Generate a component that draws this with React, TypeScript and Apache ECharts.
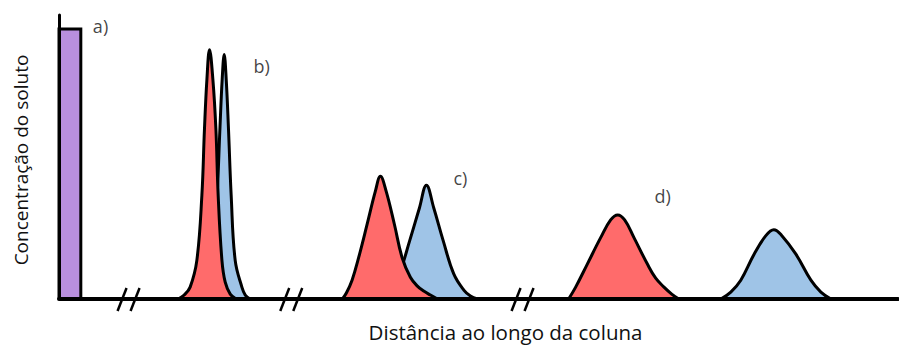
import React, { useEffect, useRef } from "react";
import * as echarts from "echarts";

// Distance along column (0-100) and solute concentration (0-100)
const injectionBand = [[0, 0], [0, 95.1], [2.6, 95.1], [2.6, 0]];

const redB = [[14.2, 0], [14.92, 1.39], [15.63, 4.18], [16.43, 13.59], [17.03, 36.59], [17.34, 59.93], [17.63, 77.35], [17.94, 87.8], [18.34, 77.35], [18.7, 59.93], [18.97, 36.59], [19.42, 13.59], [19.81, 5.92], [20.41, 1.74], [21.12, 0]];
const blueB = [[16.59, 0], [17.54, 4.18], [18.38, 13.59], [18.85, 36.59], [19.18, 59.93], [19.45, 77.35], [19.69, 86.06], [19.93, 77.35], [20.2, 59.93], [20.52, 36.59], [21.0, 13.59], [21.8, 4.18], [22.2, 1.39], [22.79, 0]];

const redC = [[33.77, 0], [34.25, 2.09], [34.93, 6.62], [35.72, 14.63], [36.72, 26.24], [37.71, 37.98], [38.31, 43.21], [38.99, 37.98], [39.98, 26.24], [40.89, 14.63], [41.88, 7.67], [42.72, 4.53], [43.47, 2.79], [44.27, 1.39], [45.11, 0]];
const blueC = [[38.31, 0], [39.38, 3.14], [40.54, 8.82], [41.8, 20.56], [42.96, 32.06], [43.79, 40.07], [44.67, 32.06], [45.79, 20.56], [47.05, 8.82], [48.25, 3.14], [49.04, 1.05], [49.88, 0]];

const redD = [[60.74, 0], [61.58, 4.18], [62.97, 12.3], [64.56, 21.6], [65.75, 27.87], [66.59, 29.62], [67.42, 27.87], [68.53, 21.6], [70.13, 12.3], [71.12, 7.32], [72.11, 4.18], [73.03, 1.74], [73.87, 0]];
const blueD = [[78.88, 0], [80.07, 2.44], [81.26, 6.62], [82.85, 15.78], [84.25, 22.3], [85.2, 24.39], [86.16, 22.3], [87.83, 15.78], [89.62, 6.62], [90.81, 2.44], [92.01, 0]];

const peakLabels = [
  { name: "a)", value: [4.95, 96.2] },
  { name: "b)", value: [24.15, 82.2] },
  { name: "c)", value: [47.85, 42.5] },
  { name: "d)", value: [71.96, 36.2] },
];

const axisBreaks = [[8.29, 0], [27.68, 0], [55.25, 0]];

const xName = "Distância ao longo da coluna";
const yName = "Concentração do soluto";

const FONT = "Open Sans";
const RED = "#ff6b6b";
const BLUE = "#9fc4e7";
const PURPLE = "#b98fde";

function peakSeries(data: number[][], color: string, z: number) {
  return {
    type: "line",
    data,
    smooth: 0.4,
    showSymbol: false,
    symbol: "none",
    z,
    lineStyle: { color: "#000", width: 3, join: "round", cap: "round" },
    areaStyle: { color, opacity: 1 },
    silent: true,
  };
}

export default function App() {
  const ref = useRef<HTMLDivElement>(null);
  useEffect(() => {
    if (!ref.current) return;
    const chart = echarts.init(ref.current, null, { renderer: "svg" });
    chart.setOption({
      animation: false,
      grid: { left: 59, right: 1, top: 15, bottom: 44 },
      xAxis: {
        type: "value",
        min: 0,
        max: 100,
        z: 10,
        name: xName,
        nameLocation: "middle",
        nameGap: 22,
        nameTextStyle: { fontSize: 20.5, fontFamily: FONT, color: "#111", padding: [0, 0, 0, 54] },
        axisLine: { show: true, onZero: false, lineStyle: { color: "#000", width: 4 } },
        axisTick: { show: false },
        axisLabel: { show: false },
        splitLine: { show: false },
      },
      yAxis: {
        type: "value",
        min: 0,
        max: 100,
        z: 10,
        name: yName,
        nameLocation: "middle",
        nameGap: 29,
        nameRotate: 90,
        nameTextStyle: { fontSize: 19, fontFamily: FONT, color: "#111", padding: [0, 6, 0, 0] },
        axisLine: { show: true, lineStyle: { color: "#000", width: 3 } },
        axisTick: { show: false },
        axisLabel: { show: false },
        splitLine: { show: false },
      },
      series: [
        {
          type: "line",
          data: injectionBand,
          showSymbol: false,
          symbol: "none",
          z: 2,
          lineStyle: { color: "#000", width: 3, join: "miter" },
          areaStyle: { color: PURPLE, opacity: 1 },
          silent: true,
        },
        peakSeries(blueB, BLUE, 2),
        peakSeries(blueC, BLUE, 2),
        peakSeries(blueD, BLUE, 2),
        peakSeries(redB, RED, 3),
        peakSeries(redC, RED, 3),
        peakSeries(redD, RED, 3),
        {
          type: "scatter",
          data: peakLabels,
          symbolSize: 0,
          z: 5,
          silent: true,
          label: {
            show: true,
            position: "inside",
            formatter: (p: any) => p.name,
            fontSize: 18,
            fontFamily: FONT,
            color: "#111",
          },
        },
        {
          type: "custom",
          data: axisBreaks,
          z: 20,
          silent: true,
          clip: false,
          encode: { x: 0, y: 1 },
          renderItem: (params: any, api: any) => {
            const p = api.coord([api.value(0), api.value(1)]);
            return {
              type: "group",
              children: [-6.5, 6.5].map((off) => ({
                type: "line",
                shape: {
                  x1: p[0] + off - 4.5,
                  y1: p[1] + 12,
                  x2: p[0] + off + 4.5,
                  y2: p[1] - 11,
                },
                style: { stroke: "#000", lineWidth: 2.5 },
              })),
            };
          },
        },
      ],
    });
    return () => chart.dispose();
  }, []);
  return (
    <div
      ref={ref}
      style={{ position: "fixed", left: 0, top: 0, width: 899, height: 347, background: "#fff" }}
    />
  );
}
